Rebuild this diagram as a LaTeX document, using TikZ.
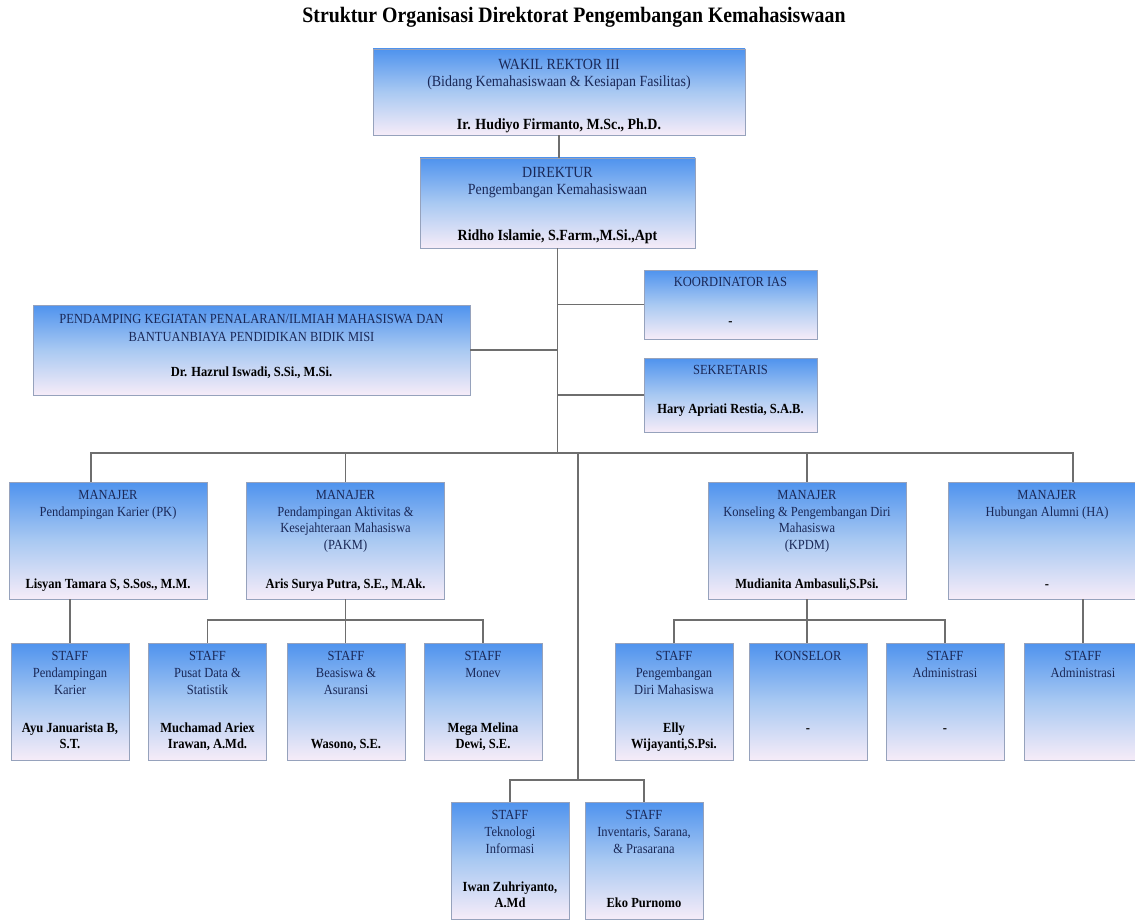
\documentclass[tikz,border=0pt]{standalone}
\usepackage{fontspec}
\setmainfont{Liberation Serif}[FakeStretch=0.9]
\usetikzlibrary{positioning}

\definecolor{boxtop}{HTML}{4F93EE}
\definecolor{boxmid}{HTML}{A9C9F2}
\definecolor{boxbot}{HTML}{F6ECF8}
\definecolor{boxline}{HTML}{96A2BC}
\definecolor{headtext}{HTML}{1A2857}
\definecolor{linkgray}{HTML}{6E6E6E}

% box text: heading on top, bold name at the bottom
\newcommand{\orgtext}[5][0pt]{%
  \parbox[c][#2][s]{#3}{\centering\vspace*{#1}\color{headtext}\strut#4\par\vfill
    {\bfseries\color{black}#5\strut}\par}}
\newcommand{\mgrtext}[2]{\orgtext{101pt}{190pt}{#1}{#2}}
\newcommand{\stafftext}[2]{\orgtext{100pt}{112pt}{#1}{#2}}

\begin{document}
\begin{tikzpicture}[
  x=1pt, y=-1pt,
  font=\fontsize{13.9}{16.8}\selectfont,
  unit/.style={draw=boxline, line width=0.6pt, top color=boxtop,
               bottom color=boxbot, middle color=boxmid, inner sep=0pt},
  manager/.style={unit, minimum width=198pt, minimum height=117pt},
  staff/.style={unit, minimum width=118pt, minimum height=117pt},
  link/.style={draw=linkgray, line width=1.5pt},
]
\fill[white] (0,0) rectangle (1135,920);
\useasboundingbox (0,0) rectangle (1135,920);

\node[font=\bfseries\fontsize{22}{26}\selectfont] (title) at (574,17)
  {Struktur Organisasi Direktorat Pengembangan Kemahasiswaan};

% pimpinan
\node[unit, minimum width=372pt, minimum height=86pt,
      font=\fontsize{15.5}{17}\selectfont] (wakil) at (559,92)
  {\orgtext[8pt]{80pt}{360pt}{WAKIL REKTOR III\\(Bidang Kemahasiswaan \& Kesiapan Fasilitas)}
    {Ir. Hudiyo Firmanto, M.Sc., Ph.D.}};
\node[unit, minimum width=275pt, minimum height=90pt,
      font=\fontsize{15.5}{17}\selectfont] (direktur) at (557.5,203)
  {\orgtext[5pt]{80pt}{265pt}{DIREKTUR\\Pengembangan Kemahasiswaan}
    {Ridho Islamie, S.Farm.,M.Si.,Apt}};

\node[unit, minimum width=173pt, minimum height=69pt] (koor) at (730.5,304.5)
  {\orgtext[-3pt]{48pt}{165pt}{KOORDINATOR IAS}{-}};
\node[unit, minimum width=173pt, minimum height=74pt] (sekr) at (730.5,395)
  {\orgtext[-8pt]{42.6pt}{165pt}{SEKRETARIS}{Hary Apriati Restia, S.A.B.}};
\node[unit, minimum width=437pt, minimum height=90pt] (pend) at (251.5,350)
  {\orgtext[-6pt]{58.6pt}{425pt}{\fontsize{13.9}{17.5}\selectfont
     PENDAMPING KEGIATAN PENALARAN/ILMIAH MAHASISWA DAN\\BANTUANBIAYA PENDIDIKAN BIDIK MISI}
    {Dr. Hazrul Iswadi, S.Si., M.Si.}};

% manajer
\node[manager] (pk) at (108,540.5)
  {\mgrtext{MANAJER\\Pendampingan Karier (PK)}{Lisyan Tamara S, S.Sos., M.M.}};
\node[manager] (pakm) at (345.5,540.5)
  {\mgrtext{MANAJER\\Pendampingan Aktivitas \&\\Kesejahteraan Mahasiswa\\(PAKM)}
    {Aris Surya Putra, S.E., M.Ak.}};
\node[manager] (kpdm) at (807,540.5)
  {\mgrtext{MANAJER\\Konseling \& Pengembangan Diri\\Mahasiswa\\(KPDM)}
    {Mudianita Ambasuli,S.Psi.}};
\node[manager] (ha) at (1047,540.5)
  {\mgrtext{MANAJER\\Hubungan Alumni (HA)}{-}};

% staff
\node[staff] (stpk) at (70,701.5)
  {\stafftext{STAFF\\Pendampingan\\Karier}{Ayu Januarista B,\\S.T.}};
\node[staff] (stdata) at (207.5,701.5)
  {\stafftext{STAFF\\Pusat Data \&\\Statistik}{Muchamad Ariex\\Irawan, A.Md.}};
\node[staff] (stbeasiswa) at (346,701.5)
  {\stafftext{STAFF\\Beasiswa \&\\Asuransi}{Wasono, S.E.}};
\node[staff] (stmonev) at (483,701.5)
  {\stafftext{STAFF\\Monev}{Mega Melina\\Dewi, S.E.}};
\node[staff] (stdiri) at (674,701.5)
  {\stafftext{STAFF\\Pengembangan\\Diri Mahasiswa}{Elly\\Wijayanti,S.Psi.}};
\node[staff] (konselor) at (808,701.5)
  {\stafftext{KONSELOR}{-\\\mbox{}}};
\node[staff] (stadmin) at (945,701.5)
  {\stafftext{STAFF\\Administrasi}{-\\\mbox{}}};
\node[staff] (stalumni) at (1083,701.5)
  {\stafftext{STAFF\\Administrasi}{}};
\node[staff] (stti) at (510,860.5)
  {\stafftext{STAFF\\Teknologi\\Informasi}{Iwan Zuhriyanto,\\A.Md}};
\node[staff] (stinv) at (644,860.5)
  {\stafftext{STAFF\\Inventaris, Sarana,\\\& Prasarana}{Eko Purnomo}};

% garis
\coordinate (hub) at (557.5,453);
\coordinate (hubti) at (578,780);
\coordinate (pakmbus) at (346,620);
\coordinate (kpdmbus) at (807,620);

\draw[link] (wakil.south) -- (wakil.south |- direktur.north);
\draw[link] (direktur.south) -- (hub);
\draw[link] (koor.west) -- (koor.west -| hub);
\draw[link] (sekr.west) -- (sekr.west -| hub);
\draw[link] (pend.east) -- (pend.east -| hub);
\draw[link] ([xshift=-17pt]pk.north) |- (hub) -| ([xshift=26pt]ha.north);
\draw[link] (pakm.north) -- (pakm.north |- hub);
\draw[link] (kpdm.north) -- (kpdm.north |- hub);
\draw[link] (hubti) -- (hubti |- hub);
\draw[link] (stti.north) |- (hubti) -| (stinv.north);

\draw[link] (stpk.north) -- (stpk.north |- pk.south);
\draw[link] (pakm.south) -- (pakm.south |- stbeasiswa.north);
\draw[link] (stdata.north) |- (pakmbus) -| (stmonev.north);
\draw[link] (kpdm.south) -- (kpdm.south |- konselor.north);
\draw[link] (stdiri.north) |- (kpdmbus) -| (stadmin.north);
\draw[link] (stalumni.north) -- (stalumni.north |- ha.south);

\end{tikzpicture}
\end{document}
